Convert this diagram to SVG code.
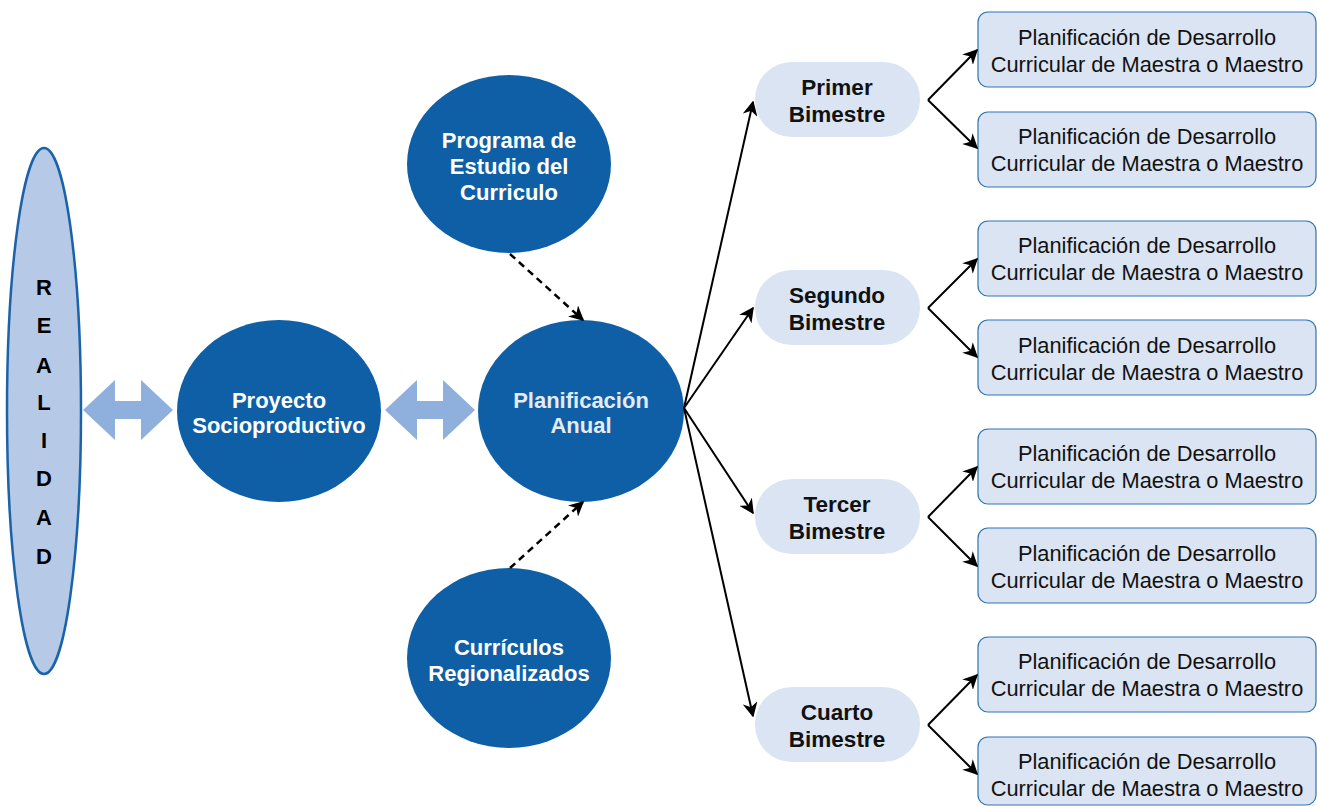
<svg xmlns="http://www.w3.org/2000/svg" width="1317" height="806" viewBox="0 0 1317 806">
<defs>
<marker id="ah2" viewBox="0 0 10 10" refX="9" refY="5" markerWidth="15" markerHeight="15" orient="auto" markerUnits="userSpaceOnUse">
<path d="M0,0 L10,5 L0,10 L3,5 Z" fill="#000"/>
</marker>
<style>
.circ{fill:#0f5fa6}
.ct{font-family:"Liberation Sans",Arial,sans-serif;font-weight:bold;font-size:22px;fill:#fff;text-anchor:middle}
.pill{fill:#dbe4f2}
.pt{font-family:"Liberation Sans",Arial,sans-serif;font-weight:bold;font-size:22.5px;fill:#111;text-anchor:middle}
.box{fill:#dbe4f2;stroke:#2e75b6;stroke-width:1.2}
.bt{font-family:"Liberation Sans",Arial,sans-serif;font-size:21.8px;fill:#111;text-anchor:middle}
.ln{stroke:#000;stroke-width:2;fill:none}
.dash{stroke:#000;stroke-width:2.5;fill:none;stroke-dasharray:7,5}
.darr{fill:#8fb0dc}
.rt{font-family:"Liberation Sans",Arial,sans-serif;font-weight:bold;font-size:22px;fill:#000;text-anchor:middle}
</style>
</defs>

<g id="realidad">
<ellipse cx="44" cy="411" rx="37" ry="263" fill="#b6c9e6" stroke="#1a63a8" stroke-width="2.5"/>
<text class="rt" x="44" y="295">R</text>
<text class="rt" x="44" y="333">E</text>
<text class="rt" x="44" y="373">A</text>
<text class="rt" x="44" y="410">L</text>
<text class="rt" x="44" y="448">I</text>
<text class="rt" x="44" y="486">D</text>
<text class="rt" x="44" y="525">A</text>
<text class="rt" x="44" y="564">D</text>
</g>

<g id="proyecto">
<ellipse class="circ" cx="279" cy="411" rx="102" ry="91"/>
<text class="ct" x="279" y="408">Proyecto</text>
<text class="ct" x="279" y="433">Socioproductivo</text>
</g>

<g id="planificacion">
<ellipse class="circ" cx="581" cy="411" rx="103" ry="91"/>
<text class="ct" x="581" y="408" style="fill:#e4ebf4">Planificación</text>
<text class="ct" x="581" y="433" style="fill:#e4ebf4">Anual</text>
</g>

<g id="programa">
<ellipse class="circ" cx="509" cy="164" rx="102" ry="89"/>
<text class="ct" x="509" y="148">Programa de</text>
<text class="ct" x="509" y="174">Estudio del</text>
<text class="ct" x="509" y="200">Curriculo</text>
</g>

<g id="curriculos">
<ellipse class="circ" cx="509" cy="658" rx="102" ry="90"/>
<text class="ct" x="509" y="655">Currículos</text>
<text class="ct" x="509" y="681">Regionalizados</text>
</g>

<g id="primer">
<rect class="pill" x="755" y="62" width="165" height="75" rx="37"/>
<text class="pt" x="837" y="95">Primer</text>
<text class="pt" x="837" y="122">Bimestre</text>
</g>
<g id="segundo">
<rect class="pill" x="755" y="270" width="165" height="75" rx="37"/>
<text class="pt" x="837" y="303">Segundo</text>
<text class="pt" x="837" y="330">Bimestre</text>
</g>
<g id="tercer">
<rect class="pill" x="755" y="479" width="165" height="75" rx="37"/>
<text class="pt" x="837" y="512">Tercer</text>
<text class="pt" x="837" y="539">Bimestre</text>
</g>
<g id="cuarto">
<rect class="pill" x="755" y="687" width="165" height="75" rx="37"/>
<text class="pt" x="837" y="720">Cuarto</text>
<text class="pt" x="837" y="747">Bimestre</text>
</g>

<g id="box1"><rect class="box" x="978" y="12" width="338" height="75" rx="10"/><text class="bt" x="1147" y="45">Planificación de Desarrollo</text><text class="bt" x="1147" y="72">Curricular de Maestra o Maestro</text></g>
<g id="box2"><rect class="box" x="978" y="112" width="338" height="75" rx="10"/><text class="bt" x="1147" y="144">Planificación de Desarrollo</text><text class="bt" x="1147" y="171">Curricular de Maestra o Maestro</text></g>
<g id="box3"><rect class="box" x="978" y="221" width="338" height="75" rx="10"/><text class="bt" x="1147" y="253">Planificación de Desarrollo</text><text class="bt" x="1147" y="280">Curricular de Maestra o Maestro</text></g>
<g id="box4"><rect class="box" x="978" y="320" width="338" height="75" rx="10"/><text class="bt" x="1147" y="353">Planificación de Desarrollo</text><text class="bt" x="1147" y="380">Curricular de Maestra o Maestro</text></g>
<g id="box5"><rect class="box" x="978" y="429" width="338" height="75" rx="10"/><text class="bt" x="1147" y="461">Planificación de Desarrollo</text><text class="bt" x="1147" y="488">Curricular de Maestra o Maestro</text></g>
<g id="box6"><rect class="box" x="978" y="528" width="338" height="75" rx="10"/><text class="bt" x="1147" y="561">Planificación de Desarrollo</text><text class="bt" x="1147" y="588">Curricular de Maestra o Maestro</text></g>
<g id="box7"><rect class="box" x="978" y="637" width="338" height="75" rx="10"/><text class="bt" x="1147" y="669">Planificación de Desarrollo</text><text class="bt" x="1147" y="696">Curricular de Maestra o Maestro</text></g>
<g id="box8"><rect class="box" x="978" y="737" width="338" height="68" rx="10"/><text class="bt" x="1147" y="769">Planificación de Desarrollo</text><text class="bt" x="1147" y="796">Curricular de Maestra o Maestro</text></g>

<g id="connectors">
<path class="darr" d="M83,410 L115,380 L115,401 L141,401 L141,380 L173,410 L141,440 L141,419 L115,419 L115,440 Z"/>
<path class="darr" d="M385,410 L417,380 L417,401 L443,401 L443,380 L475,410 L443,440 L443,419 L417,419 L417,440 Z"/>
<line class="dash" x1="510" y1="254" x2="583" y2="320" marker-end="url(#ah2)"/>
<line class="dash" x1="510" y1="568" x2="583" y2="502" marker-end="url(#ah2)"/>
<line class="ln" x1="684" y1="408" x2="753" y2="102" marker-end="url(#ah2)"/>
<line class="ln" x1="684" y1="408" x2="753" y2="308" marker-end="url(#ah2)"/>
<line class="ln" x1="684" y1="408" x2="753" y2="513" marker-end="url(#ah2)"/>
<line class="ln" x1="684" y1="408" x2="753" y2="716" marker-end="url(#ah2)"/>
<line class="ln" x1="928" y1="100" x2="977" y2="50" marker-end="url(#ah2)"/>
<line class="ln" x1="928" y1="100" x2="977" y2="148" marker-end="url(#ah2)"/>
<line class="ln" x1="928" y1="308" x2="977" y2="259" marker-end="url(#ah2)"/>
<line class="ln" x1="928" y1="308" x2="977" y2="357" marker-end="url(#ah2)"/>
<line class="ln" x1="928" y1="517" x2="977" y2="467" marker-end="url(#ah2)"/>
<line class="ln" x1="928" y1="517" x2="977" y2="566" marker-end="url(#ah2)"/>
<line class="ln" x1="928" y1="725" x2="977" y2="675" marker-end="url(#ah2)"/>
<line class="ln" x1="928" y1="725" x2="977" y2="774" marker-end="url(#ah2)"/>
</g>
</svg>
